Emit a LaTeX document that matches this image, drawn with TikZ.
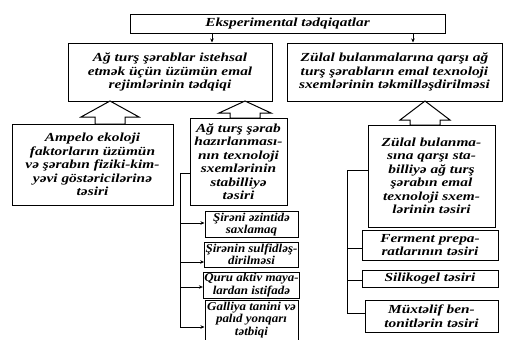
\documentclass[tikz,border=0pt]{standalone}
\usepackage{fontspec}
\setmainfont{Liberation Serif}[FakeStretch=1.25]
\newfontfamily\narrowserif{Liberation Serif}[FakeStretch=1.08]
\usetikzlibrary{arrows.meta,calc}

% hollow up arrow: tip x, tip y, head half, head base y, shaft half, bottom y
\newcommand{\upblock}[6]{%
  \draw[blockarr] (#1,#2) -- (#1+#3,#4) -- (#1+#5,#4) -- (#1+#5,#6)
    -- (#1-#5,#6) -- (#1-#5,#4) -- (#1-#3,#4) -- cycle;}

\begin{document}
\begin{tikzpicture}[x=1pt,y=-1pt,
  box/.style={draw, line width=1pt, fill=white, align=center, inner sep=1pt,
    font=\bfseries\itshape\fontsize{12.3}{13.5}\selectfont},
  smallbox/.style={box, font=\narrowserif\bfseries\itshape\fontsize{12}{12.5}\selectfont},
  arr/.style={line width=0.9pt, -{Stealth[length=4pt,width=3.5pt]}},
  link/.style={line width=0.9pt},
  blockarr/.style={draw, line width=1pt, fill=white, line join=miter}]
  \useasboundingbox (0,0) rectangle (507,340);

  % top
  \node[box, minimum width=315pt, minimum height=19pt] (exp) at (287.5,23.5) {Eksperimental tədqiqatlar};
  \node[box, minimum width=204pt, minimum height=58pt] (rejim) at (170,72)
    {Ağ turş şərablar istehsal\\etmək üçün üzümün emal\\rejimlərinin tədqiqi};
  \node[box, minimum width=215pt, minimum height=58pt] (texsxem) at (394.5,72)
    {Zülal bulanmalarına qarşı ağ\\turş şərabların emal texnoloji\\sxemlərinin təkmilləşdirilməsi};

  \coordinate (c1) at (212,0);
  \coordinate (c2) at (413,0);
  \draw[arr] (exp.south -| c1) -- (rejim.north -| c1);
  \draw[arr] (exp.south -| c2) -- (texsxem.north -| c2);

  % block arrows
  \upblock{110}{101}{29}{117}{15}{124}
  \upblock{245}{101}{26}{113}{15}{118}
  \upblock{425}{101}{25}{120}{15}{125}

  % second level
  \node[box, minimum width=161pt, minimum height=81pt] (ampelo) at (92.5,164.5)
    {Ampelo ekoloji\\faktorların üzümün\\və şərabın fiziki-kim-\\yəvi göstəricilərinə\\təsiri};
  \node[box, minimum width=97pt, minimum height=87pt] (stabil) at (238.5,161.5)
    {Ağ turş şərab\\hazırlanması-\\nın texnoloji\\sxemlərinin\\stabilliyə\\təsiri};
  \node[box, minimum width=127pt, minimum height=102pt] (zulal) at (431.5,176)
    {Zülal bulanma-\\sına qarşı sta-\\billiyə ağ turş\\şərabın emal\\texnoloji sxem-\\lərinin təsiri};

  % left column
  \node[smallbox, minimum width=93pt, minimum height=25pt] (azinti) at (251.5,224.5) {Şirəni əzintidə\\saxlamaq};
  \node[smallbox, minimum width=93pt, minimum height=25pt] (sulfid) at (251.5,254.5) {Şirənin sulfidləş-\\dirilməsi};
  \node[smallbox, minimum width=93pt, minimum height=26pt] (maya) at (251.5,285) {Quru aktiv maya-\\lardan istifadə};
  \node[smallbox, minimum width=93pt, minimum height=44pt, text depth=13pt] (galliya) at (251.5,325)
    {Galliya tanini və\\palıd yonqarı\\tətbiqi};

  \coordinate (ltop) at (180,173);
  \coordinate (l1) at (180,223);
  \coordinate (l2) at (180,262);
  \coordinate (l3) at (180,287);
  \coordinate (l4) at (180,327);
  \draw[link] (ltop -| stabil.west) -- (ltop) -- (l4);
  \foreach \c/\b in {l1/azinti, l2/sulfid, l3/maya, l4/galliya} {
    \draw[arr] (\c) -- (\c -| \b.west);
  }

  % right column
  \node[box, minimum width=136pt, minimum height=30pt] (ferment) at (430,245) {Ferment prepa-\\ratlarının təsiri};
  \node[box, minimum width=136pt, minimum height=17pt] (silikogel) at (430,278.5) {Silikogel təsiri};
  \node[box, minimum width=133pt, minimum height=32pt] (bentonit) at (431.5,316) {Müxtəlif ben-\\tonitlərin təsiri};

  \coordinate (rtop) at (347,170);
  \coordinate (r1) at (347,248);
  \coordinate (r2) at (347,280);
  \coordinate (r3) at (347,313);
  \draw[link] (rtop -| zulal.west) -- (rtop) -- (r3);
  \foreach \c/\b in {r1/ferment, r2/silikogel, r3/bentonit} {
    \draw[link] (\c) -- (\c -| \b.west);
  }
\end{tikzpicture}
\end{document}
